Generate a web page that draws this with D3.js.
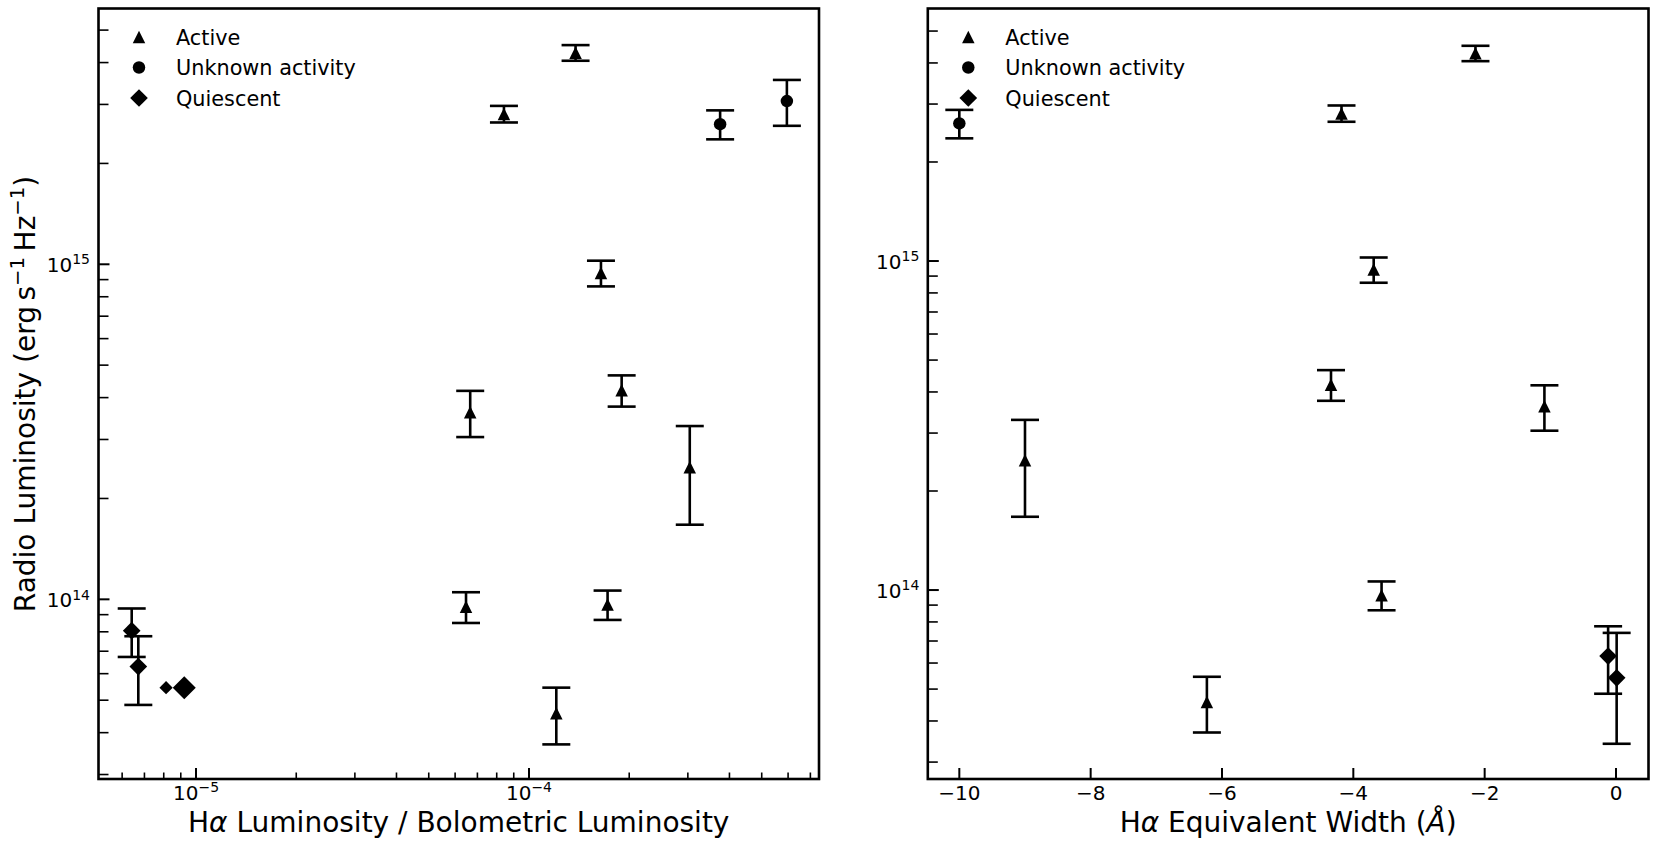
<!DOCTYPE html>
<html><head><meta charset="utf-8">
<script src="https://cdn.jsdelivr.net/npm/d3@7"></script>
<style>
body{margin:0;background:#fff}
text{font-family:"DejaVu Sans",sans-serif;fill:#000}
</style>
</head><body>
<svg id="c" width="1659" height="854"></svg>
<script>
// ---------------- data ----------------
const activity   = ["Active","Active","Unknown","Unknown","Active","Active","Active","Active","Active","Active","Active","Quiescent","Quiescent","Quiescent","Quiescent","Quiescent"];
const haRatio    = [1.38e-4, 8.41e-5, 3.75e-4, 5.95e-4, 1.645e-4, 6.66e-5, 1.898e-4, 3.04e-4, 6.47e-5, 1.722e-4, 1.208e-4, 6.41e-6, 6.71e-6, 8.13e-6, 9.22e-6, null];
const haEW       = [-2.14, -4.18, -10.0, null, -3.69, -1.09, -4.34, -9.0, null, -3.57, -6.23, null, -0.12, null, null, 0.01];
const radioL     = [4.28e15, 2.81e15, 2.62e15, 3.07e15, 9.42e14, 3.62e14, 4.21e14, 2.48e14, 9.5e13, 9.65e13, 4.57e13, 8.06e13, 6.30e13, 5.45e13, 5.45e13, 5.41e13];
const radioErr   = [0.23e15, 0.16e15, 0.26e15, 0.48e15, 0.83e14, 0.57e14, 0.45e14, 0.81e14, 1.0e13, 0.97e13, 0.88e13, 1.33e13, 1.46e13, null, null, 2.0e13];
const legendCats = ["Active","Unknown","Quiescent"];
const legendText = ["Active","Unknown activity","Quiescent"];
const yMajorTicks = [1e14, 1e15];
const yMinorTicks = [3e13,4e13,5e13,6e13,7e13,8e13,9e13,2e14,3e14,4e14,5e14,6e14,7e14,8e14,9e14,2e15,3e15,4e15,5e15];
const xLeftMajor = [1e-5, 1e-4];
const xLeftMinor = [6e-6,7e-6,8e-6,9e-6,2e-5,3e-5,4e-5,5e-5,6e-5,7e-5,8e-5,9e-5,2e-4,3e-4,4e-4,5e-4,6e-4,7e-4];
const xRightTicks = [-10,-8,-6,-4,-2,0];

// ---------------- styles ----------------
const bigMarkerIdx = [14];
const smallMarkerIdx = [13];
const svg = d3.select("#c");
const TICK_FS = 20, LEG_FS = 20.8, LAB_FS = 28;

const panels = [
  {x0:98.5, x1:819, y0:8.5, y1:779,
   xs: d3.scaleLog().domain([5.095e-6, 7.43e-4]).range([98.5, 819]),
   ys: d3.scaleLog().domain([2.909e13, 5.80e15]).range([779, 8.5]),
   xv: haRatio, log:true,
   label: [["H",null],["α","italic"],[" Luminosity / Bolometric Luminosity",null]]},
  {x0:927.8, x1:1648.5, y0:8.5, y1:779,
   xs: d3.scaleLinear().domain([-10.48, 0.495]).range([927.8, 1648.5]),
   ys: d3.scaleLog().domain([2.665e13, 5.855e15]).range([779, 8.5]),
   xv: haEW, log:false,
   label: [["H",null],["α","italic"],[" Equivalent Width (",null],["Å","italic"],[")",null]]}
];

function marker(g, cat, x, y, scale){
  const s = 12.5*scale;
  if(cat==="Active"){
    const h=s/2;
    g.append("path").attr("d",`M${x},${y-h}L${x-h},${y+h}L${x+h},${y+h}Z`).attr("fill","#000");
  } else if(cat==="Unknown"){
    g.append("circle").attr("cx",x).attr("cy",y).attr("r",s/2).attr("fill","#000");
  } else {
    const h=s*0.707;
    g.append("path").attr("d",`M${x},${y-h}L${x+h},${y}L${x},${y+h}L${x-h},${y}Z`).attr("fill","#000");
  }
}

function supLabel(g, x, y, base, sup, anchor){
  const t = g.append("text").attr("x",x).attr("y",y).attr("text-anchor",anchor).attr("font-size",TICK_FS);
  t.append("tspan").text(base);
  t.append("tspan").attr("font-size",TICK_FS*0.7).attr("dy",-7.8).text(sup);
  return t;
}

panels.forEach((p,pi)=>{
  const g = svg.append("g");
  // error bars
  activity.forEach((cat,i)=>{
    const xv = p.xv[i];
    if(xv===null || xv===undefined) return;
    const x = p.xs(xv);
    if(radioErr[i]!==null){
      const ya = p.ys(radioL[i]+radioErr[i]), yb = p.ys(radioL[i]-radioErr[i]);
      g.append("line").attr("x1",x).attr("x2",x).attr("y1",ya).attr("y2",yb).attr("stroke","#000").attr("stroke-width",2.6);
      [ya,yb].forEach(yy=>g.append("line").attr("x1",x-14).attr("x2",x+14).attr("y1",yy).attr("y2",yy).attr("stroke","#000").attr("stroke-width",2.6));
    }
  });
  // markers
  activity.forEach((cat,i)=>{
    const xv = p.xv[i];
    if(xv===null || xv===undefined) return;
    let sc = 1;
    if(bigMarkerIdx.includes(i)) sc=1.3;
    if(smallMarkerIdx.includes(i)) sc=0.75;
    marker(g, cat, p.xs(xv), p.ys(radioL[i]), sc);
  });
  // ticks
  const tk = svg.append("g");
  yMajorTicks.forEach(v=>{
    const y=p.ys(v);
    tk.append("line").attr("x1",p.x0).attr("x2",p.x0+11).attr("y1",y).attr("y2",y).attr("stroke","#000").attr("stroke-width",2);
    const e = Math.round(Math.log10(v));
    supLabel(tk, p.x0-8.5, y+8, "10", String(e), "end");
  });
  yMinorTicks.forEach(v=>{
    const y=p.ys(v);
    if(y<p.y0||y>p.y1) return;
    tk.append("line").attr("x1",p.x0).attr("x2",p.x0+10).attr("y1",y).attr("y2",y).attr("stroke","#000").attr("stroke-width",1.6);
  });
  if(p.log){
    xLeftMajor.forEach(v=>{
      const x=p.xs(v);
      tk.append("line").attr("x1",x).attr("x2",x).attr("y1",p.y1).attr("y2",p.y1-11).attr("stroke","#000").attr("stroke-width",2);
      const e = Math.round(Math.log10(v));
      supLabel(tk, x, 800, "10", "\u2212"+String(-e), "middle");
    });
    xLeftMinor.forEach(v=>{
      const x=p.xs(v);
      if(x<p.x0||x>p.x1) return;
      tk.append("line").attr("x1",x).attr("x2",x).attr("y1",p.y1).attr("y2",p.y1-6.5).attr("stroke","#000").attr("stroke-width",1.6);
    });
  } else {
    xRightTicks.forEach(v=>{
      const x=p.xs(v);
      tk.append("line").attr("x1",x).attr("x2",x).attr("y1",p.y1).attr("y2",p.y1-11).attr("stroke","#000").attr("stroke-width",2);
      tk.append("text").attr("x",x).attr("y",800).attr("text-anchor","middle").attr("font-size",TICK_FS)
        .text(v<0 ? "\u2212"+Math.abs(v) : String(v));
    });
  }
  // frame
  svg.append("rect").attr("x",p.x0).attr("y",p.y0).attr("width",p.x1-p.x0).attr("height",p.y1-p.y0)
    .attr("fill","none").attr("stroke","#000").attr("stroke-width",2.6);
  // x label
  const xl = svg.append("text").attr("x",(p.x0+p.x1)/2).attr("y",832).attr("text-anchor","middle").attr("font-size",LAB_FS);
  p.label.forEach(([s,st])=>{ const ts=xl.append("tspan").text(s); if(st) ts.attr("font-style",st); });
  // legend
  const lg = svg.append("g");
  legendCats.forEach((c,k)=>{
    const y = 37 + k*30.5;
    marker(lg, c, p.x0+40.5, y, 1.0);
    lg.append("text").attr("x",p.x0+77.5).attr("y",y+7.5).attr("font-size",LEG_FS).text(legendText[k]);
  });
});

// y label (left only)
const yl = svg.append("text").attr("transform","translate(35,394) rotate(-90)").attr("text-anchor","middle").attr("font-size",LAB_FS);
yl.append("tspan").text("Radio Luminosity (erg\u2009s");
yl.append("tspan").attr("font-size",LAB_FS*0.7).attr("dy",-11).text("\u22121");
yl.append("tspan").attr("dy",11).text("\u2009Hz");
yl.append("tspan").attr("font-size",LAB_FS*0.7).attr("dy",-11).text("\u22121");
yl.append("tspan").attr("dy",11).text(")");
</script>
</body></html>
